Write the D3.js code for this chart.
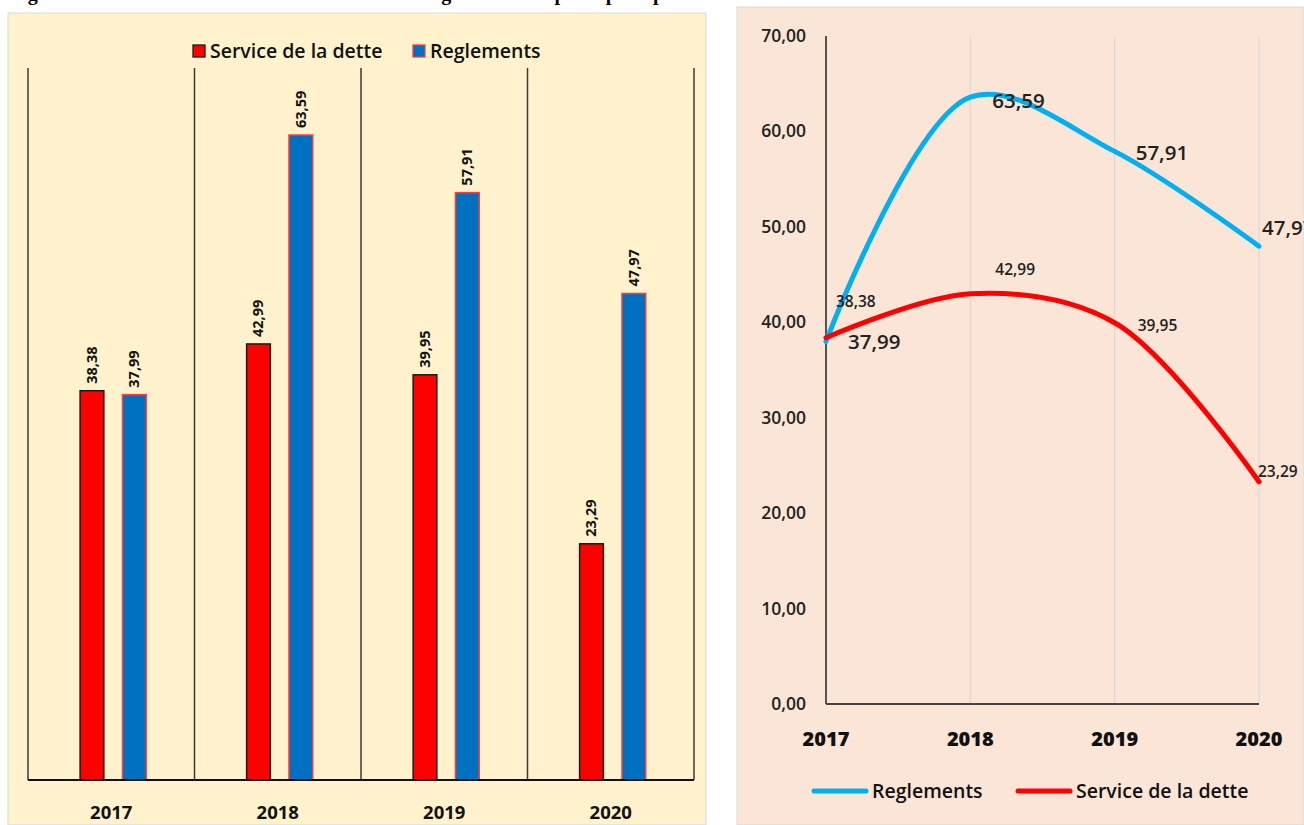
<!DOCTYPE html>
<html><head><meta charset="utf-8">
<script src="https://cdn.jsdelivr.net/npm/d3@7"></script>
<style>
html,body{margin:0;padding:0;background:#fff;overflow:hidden}
svg{display:block}
</style></head>
<body>
<svg id="c" width="1304" height="825"></svg>
<script>
const years = ["2017","2018","2019","2020"];
const serviceDette = [38.38, 42.99, 39.95, 23.29];
const reglements = [37.99, 63.59, 57.91, 47.97];
const yTicks = [0,10,20,30,40,50,60,70];
const seriesNames = ["Service de la dette","Reglements"];
const titleText = "Figure 4 : Evolution du service de la dette et des règlements des principaux partenaires";

// label offsets for the line chart (dx, dy relative to point)
const regLabelOff = [[22,1],[22,4],[21,2],[3,-18]];
const servLabelOff = [[10,-37],[25,-25],[23,2],[-1,-11]];

const fmt = v => d3.format(".2f")(v).replace(".", ",");
const svg = d3.select("#c");
const FONT = "'Open Sans', Lato, sans-serif";

// partially visible title at the very top (only descenders visible)
svg.append("text").attr("x", 10).attr("y", 0)
  .attr("font-family","'Liberation Serif', serif").attr("font-weight","bold")
  .attr("font-size",20).attr("fill","#000").text(titleText);

// ---------------- LEFT: bar chart ----------------
svg.append("rect").attr("x",8).attr("y",13).attr("width",698).attr("height",812)
  .attr("fill","#FFF2CC").attr("stroke","#d9d9d9").attr("stroke-width",1);

const xL = d3.scaleBand().domain(years).range([28,694]).paddingInner(0).paddingOuter(0);
const xIn = d3.scaleBand().domain(seriesNames)
  .range([xL.bandwidth()*0.313, xL.bandwidth()*0.71]).paddingInner(0.44).paddingOuter(0);
const yL = d3.scaleLinear().domain([0,70]).range([780,70]);

const gL = svg.append("g");
const bounds = years.map(y => xL(y)).concat([xL.range()[1]]);
gL.selectAll("line.sep").data(bounds).join("line")
  .attr("x1",d=>d).attr("x2",d=>d).attr("y1",yL(70)-2).attr("y2",yL(0))
  .attr("stroke","#3a3a3a").attr("stroke-width",1.5);

const barData = [];
years.forEach((y,i)=>{
  barData.push({year:y, s:seriesNames[0], v:serviceDette[i]});
  barData.push({year:y, s:seriesNames[1], v:reglements[i]});
});
gL.selectAll("rect.bar").data(barData).join("rect")
  .attr("x",d=>xL(d.year)+xIn(d.s)).attr("width",xIn.bandwidth())
  .attr("y",d=>yL(d.v)).attr("height",d=>yL(0)-yL(d.v))
  .attr("fill",d=>d.s===seriesNames[0]?"#FF0000":"#0070C0")
  .attr("stroke",d=>d.s===seriesNames[0]?"#1a1a1a":"#FF3B3B")
  .attr("stroke-width",1.5);

gL.selectAll("text.bl").data(barData).join("text")
  .attr("transform",d=>`translate(${xL(d.year)+xIn(d.s)+xIn.bandwidth()/2+5},${yL(d.v)-7}) rotate(-90)`)
  .attr("font-family",FONT).attr("font-weight","bold").attr("font-size",14.5)
  .attr("fill","#111").text(d=>fmt(d.v));

gL.append("line").attr("x1",28).attr("x2",694).attr("y1",yL(0)).attr("y2",yL(0))
  .attr("stroke","#111").attr("stroke-width",2);

gL.selectAll("text.xl").data(years).join("text")
  .attr("x",d=>xL(d)+xL.bandwidth()/2).attr("y",819)
  .attr("text-anchor","middle").attr("font-family",FONT).attr("font-weight","bold")
  .attr("font-size",18.5).attr("fill","#111").text(d=>d);

const legL = gL.append("g");
const legItems = [{n:seriesNames[0], x:193, fill:"#FF0000", st:"#1a1a1a"},{n:seriesNames[1], x:413, fill:"#0070C0", st:"#FF3B3B"}];
legItems.forEach(it=>{
  legL.append("rect").attr("x",it.x).attr("y",45).attr("width",12).attr("height",12)
    .attr("fill",it.fill).attr("stroke",it.st).attr("stroke-width",1.3);
  legL.append("text").attr("x",it.x+17).attr("y",58).attr("font-family",FONT)
    .attr("font-weight","600").attr("font-size",19.5).attr("fill","#111").text(it.n);
});

// ---------------- RIGHT: line chart ----------------
svg.append("rect").attr("x",737).attr("y",7).attr("width",567).attr("height",818)
  .attr("fill","#FBE5D6").attr("stroke","#d9d9d9").attr("stroke-width",1);

const xR = d3.scalePoint().domain(years).range([826,1259]);
const yR = d3.scaleLinear().domain([0,70]).range([704,36]);
const gR = svg.append("g");

gR.selectAll("line.vg").data(years.slice(1)).join("line")
  .attr("x1",d=>xR(d)).attr("x2",d=>xR(d)).attr("y1",yR(70)).attr("y2",yR(0))
  .attr("stroke","#d9d9d9").attr("stroke-width",1.2);

gR.append("line").attr("x1",xR(years[0])).attr("x2",xR(years[0])).attr("y1",yR(70)).attr("y2",yR(0))
  .attr("stroke","#444").attr("stroke-width",1.8);
gR.append("line").attr("x1",xR(years[0])).attr("x2",xR(years[3])).attr("y1",yR(0)).attr("y2",yR(0))
  .attr("stroke","#444").attr("stroke-width",1.8);

gR.selectAll("text.yt").data(yTicks).join("text")
  .attr("x",806).attr("y",d=>yR(d)+6).attr("text-anchor","end")
  .attr("font-family",FONT).attr("font-weight","600").attr("font-size",17.5)
  .attr("fill","#222").text(d=>fmt(d));

gR.selectAll("text.xt").data(years).join("text")
  .attr("x",d=>xR(d)).attr("y",746).attr("text-anchor","middle")
  .attr("font-family",FONT).attr("font-weight","800").attr("font-size",20)
  .attr("fill","#111").text(d=>d);

const line = d3.line().x((d,i)=>xR(years[i])).y(d=>yR(d)).curve(d3.curveCatmullRom.alpha(0.5));

gR.append("path").attr("d",line(reglements)).attr("fill","none")
  .attr("stroke","#00B0F0").attr("stroke-width",5).attr("stroke-linecap","round");
gR.append("path").attr("d",line(serviceDette)).attr("fill","none")
  .attr("stroke","#FF0000").attr("stroke-width",5).attr("stroke-linecap","round");

gR.selectAll("text.rl").data(reglements).join("text")
  .attr("x",(d,i)=>xR(years[i])+regLabelOff[i][0]).attr("y",(d,i)=>yR(d)+regLabelOff[i][1]+7)
  .attr("font-family",FONT).attr("font-weight","600").attr("font-size",20.5)
  .attr("fill","#222").text(d=>fmt(d));
gR.selectAll("text.sl").data(serviceDette).join("text")
  .attr("x",(d,i)=>xR(years[i])+servLabelOff[i][0]).attr("y",(d,i)=>yR(d)+servLabelOff[i][1]+6)
  .attr("font-family",FONT).attr("font-weight","600").attr("font-size",15.5)
  .attr("fill","#222").text(d=>fmt(d));

const legR = [{n:seriesNames[1], x:812, c:"#00B0F0"},{n:seriesNames[0], x:1016, c:"#FF0000"}];
legR.forEach(it=>{
  gR.append("line").attr("x1",it.x+2).attr("x2",it.x+54).attr("y1",791).attr("y2",791)
    .attr("stroke",it.c).attr("stroke-width",5).attr("stroke-linecap","round");
  gR.append("text").attr("x",it.x+60).attr("y",798).attr("font-family",FONT)
    .attr("font-weight","600").attr("font-size",19.5).attr("fill","#111").text(it.n);
});
</script>
</body></html>
